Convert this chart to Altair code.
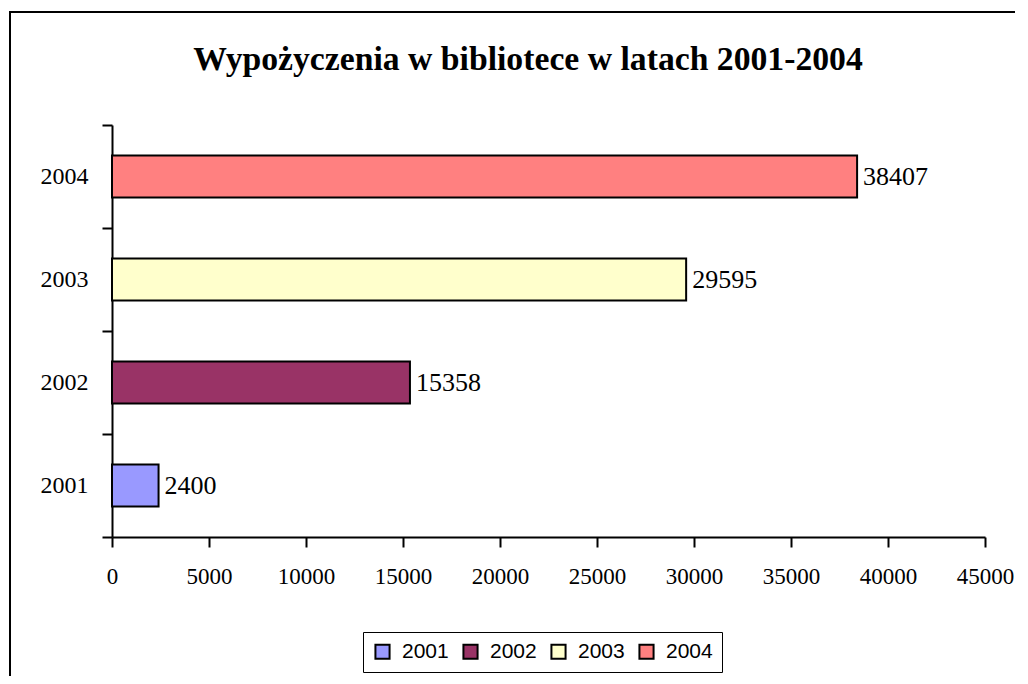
import altair as alt
import pandas as pd

years = ["2001", "2002", "2003", "2004"]
values = [2400, 15358, 29595, 38407]
colors = ["#9999FF", "#993366", "#FFFFCC", "#FF8080"]
x_ticks = [0, 5000, 10000, 15000, 20000, 25000, 30000, 35000, 40000, 45000]
title_text = "Wypożyczenia w bibliotece w latach 2001-2004"

df = pd.DataFrame({"rok": years, "wartosc": values})

W, H = 873, 412
order = list(reversed(years))

y_enc = alt.Y("rok:N", sort=order,
              scale=alt.Scale(paddingInner=0, paddingOuter=0),
              axis=alt.Axis(title=None, tickBand="extent", tickSize=10, tickWidth=2,
                            tickColor="black", domainColor="black", domainWidth=2,
                            labelFont="Liberation Serif", labelFontSize=24,
                            labelColor="black", labelPadding=14, grid=False))
x_enc = alt.X("wartosc:Q",
              scale=alt.Scale(domain=[0, 45000], nice=False),
              axis=alt.Axis(title=None, values=x_ticks, format="d", tickSize=10, tickWidth=2,
                            tickColor="black", domainColor="black", domainWidth=2,
                            labelFont="Liberation Serif", labelFontSize=23,
                            labelColor="black", labelPadding=18, grid=False,
                            labelFlush=False))

bars = alt.Chart(df).mark_bar(stroke="black", strokeWidth=2, size=42).encode(
    x=x_enc,
    y=y_enc,
    color=alt.Color("rok:N", scale=alt.Scale(domain=years, range=colors),
                    legend=alt.Legend(title=None, orient="none", legendX=251, legendY=507,
                                      direction="horizontal", symbolType="square",
                                      symbolSize=200, symbolStrokeColor="black",
                                      symbolStrokeWidth=2, labelFont="Liberation Sans",
                                      labelFontSize=21, labelColor="black",
                                      columnPadding=10, labelOffset=9,
                                      strokeColor="black", padding=9,
                                      fillColor="white")),
)

labels = alt.Chart(df).mark_text(align="left", baseline="middle", dx=6,
                                 font="Liberation Serif", fontSize=26, color="black").encode(
    x=alt.X("wartosc:Q"),
    y=alt.Y("rok:N", sort=order),
    text=alt.Text("wartosc:Q", format="d"),
)

frame = alt.Chart(alt.Data(values=[{}])).mark_rect(
    fill=None, stroke="black", strokeWidth=2
).encode(x=alt.value(-102), x2=alt.value(1000), y=alt.value(-113), y2=alt.value(700))

title = alt.Chart(alt.Data(values=[{"t": title_text}])).mark_text(
    font="Liberation Serif", fontSize=33.7, fontWeight="bold", color="black",
    align="center", baseline="middle"
).encode(x=alt.value(416), y=alt.value(-65), text="t:N")

chart = alt.layer(frame, title, bars, labels).properties(
    width=W, height=H,
    autosize=alt.AutoSizeParams(type="none"),
    padding={"left": 104, "top": 117, "right": 30, "bottom": 139},
).configure(background="white").configure_view(stroke=None, strokeWidth=0)

chart.save("out.html", embed_options={"renderer": "svg", "actions": False})
